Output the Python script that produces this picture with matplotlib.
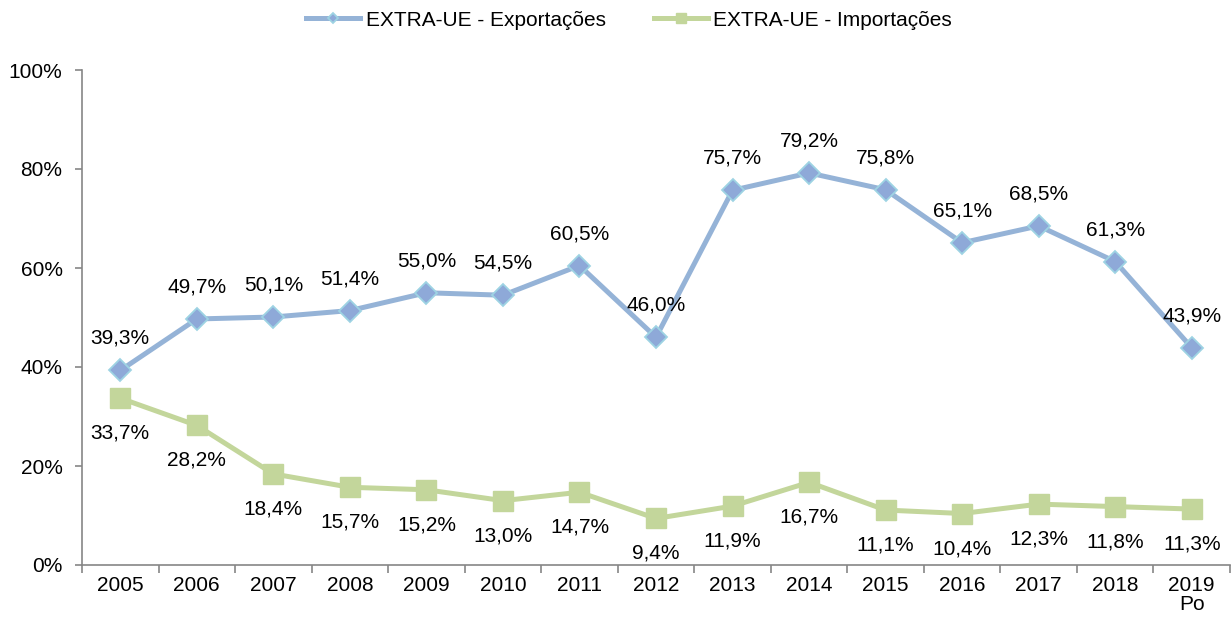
import matplotlib
matplotlib.use("Agg")
import matplotlib.pyplot as plt
from matplotlib.ticker import FixedLocator, FuncFormatter

plt.rcParams['font.family'] = ['Liberation Sans', 'DejaVu Sans']

years = ["2005", "2006", "2007", "2008", "2009", "2010", "2011", "2012",
         "2013", "2014", "2015", "2016", "2017", "2018", "2019\nPo"]
exports = [39.3, 49.7, 50.1, 51.4, 55.0, 54.5, 60.5, 46.0,
           75.7, 79.2, 75.8, 65.1, 68.5, 61.3, 43.9]
imports = [33.7, 28.2, 18.4, 15.7, 15.2, 13.0, 14.7, 9.4,
           11.9, 16.7, 11.1, 10.4, 12.3, 11.8, 11.3]

FS = 15

fig = plt.figure(figsize=(12.31, 6.26), dpi=100)
ax = fig.add_axes([82/1231, 61/626, (1230-82)/1231, (565-70)/626])

x = list(range(len(years)))
exp_col = '#95B3D7'
imp_col = '#C3D69B'
ax.plot(x, exports, color=exp_col, lw=3.6, marker='D', ms=11,
        mfc='#8EA9D8', mec='#9ED3E3', mew=1.3, label='EXTRA-UE - Exportações', zorder=3)
ax.plot(x, imports, color=imp_col, lw=3.6, marker='s', ms=14.5,
        mfc=imp_col, mec=imp_col, label='EXTRA-UE - Importações', zorder=3)

def fmt(v):
    return f"{v:.1f}".replace('.', ',') + '%'

for i, v in enumerate(exports):
    ax.annotate(fmt(v), (i, v), xytext=(0, 32), textcoords='offset pixels',
                ha='center', va='center', fontsize=FS, color='black')
for i, v in enumerate(imports):
    ax.annotate(fmt(v), (i, v), xytext=(0, -35), textcoords='offset pixels',
                ha='center', va='center', fontsize=FS, color='black')

ax.set_xlim(-0.5, len(years) - 0.5)
ax.set_ylim(0, 100)
ax.set_yticks([0, 20, 40, 60, 80, 100])
ax.yaxis.set_major_formatter(FuncFormatter(lambda v, p: f"{int(v)}%"))
ax.set_xticks(x)
ax.set_xticklabels(years, linespacing=1.0)
ax.xaxis.set_minor_locator(FixedLocator([i - 0.5 for i in range(len(years) + 1)]))
ax.tick_params(axis='x', which='major', length=0, labelsize=FS, pad=8)
ax.tick_params(axis='x', which='minor', length=6, color='#868686', width=1.2)
ax.tick_params(axis='y', length=5, color='#868686', width=1.2, labelsize=FS, pad=9)

for s in ['top', 'right']:
    ax.spines[s].set_visible(False)
for s in ['left', 'bottom']:
    ax.spines[s].set_color('#868686')
    ax.spines[s].set_linewidth(1.2)

leg = fig.legend(loc='center', bbox_to_anchor=(629/1231, 1 - 20/626), ncol=2, frameon=False,
                 fontsize=FS, handlelength=2.6, columnspacing=2.3, markerscale=0.5,
                 handletextpad=0.25)

fig.savefig('out.png', dpi=100)
